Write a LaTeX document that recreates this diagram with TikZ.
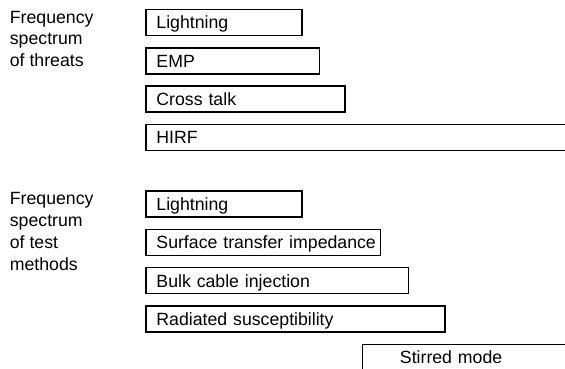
\documentclass[tikz,border=0pt]{standalone}
\usepackage{fontspec}
\setmainfont{Liberation Sans}

\begin{document}
\begin{tikzpicture}[x=1pt,y=-1pt,font=\fontsize{17.7}{21.8}\selectfont,
  bar/.style={draw,line width=1.5pt,anchor=north west,minimum height=26pt,
    inner ysep=0pt,align=left,text height=12.7pt,text depth=0pt},
  lbl/.style={anchor=base west,inner sep=0pt,align=left}]
\useasboundingbox (0,0) rectangle (565,368);

% base anchor sits on the last line
\node[lbl] (threats) at (9.7,66.7) {Frequency\\spectrum\\of threats};
\node[lbl,font=\fontsize{17.7}{21.7}\selectfont] (methods) at (9.7,270)
  {Frequency\\spectrum\\of test\\methods};

\foreach \txt/\r [count=\i,evaluate={\y=8.8+38.25*(\i-1); \tw=\r-145-21.4;}]
    in {Lightning/301.2,EMP/318.5,Cross talk/344.2,HIRF/600}{ % threat bars
  \node[bar,inner xsep=10.7pt,text width=\tw pt] (T\i) at (145,\y) {\mbox{\txt}};
}

\foreach \txt/\l/\r/\s [count=\i,evaluate={\y=190.1+38.4*(\i-1); \tw=\r-\l-2*\s;}]
    in {Lightning/145/301.2/10.7,Surface transfer impedance/145/379.9/10.7,
        Bulk cable injection/145/407.5/10.7,Radiated susceptibility/145/444.2/10.7,
        Stirred mode/361.5/600/37.7}{ % test method bars
  \node[bar,inner xsep=\s pt,text width=\tw pt] (M\i) at (\l,\y) {\mbox{\txt}};
}
\end{tikzpicture}
\end{document}
